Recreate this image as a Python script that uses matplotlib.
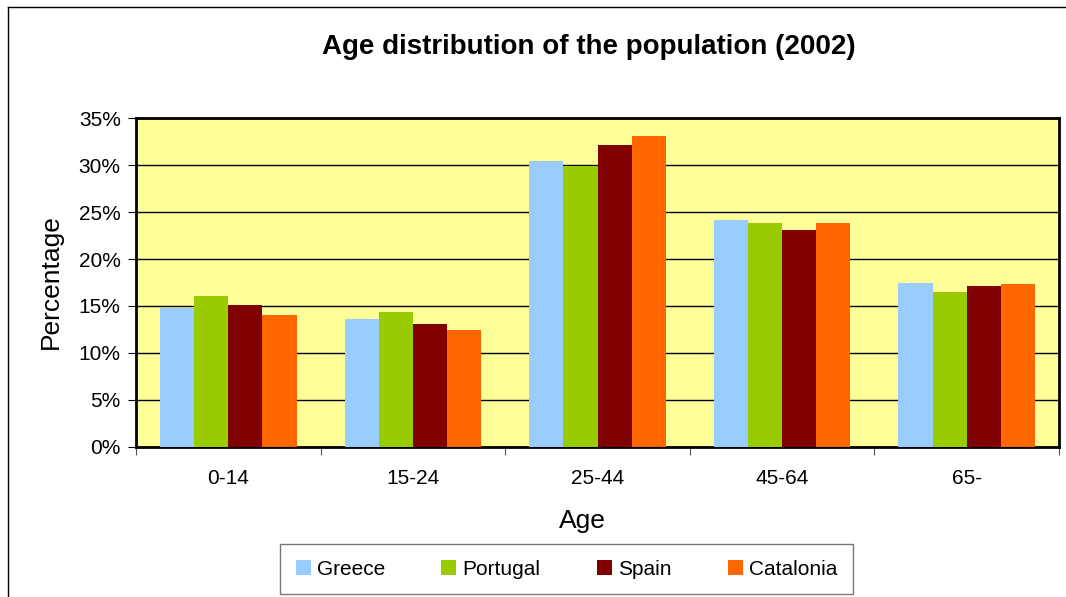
import matplotlib
matplotlib.use("Agg")
import matplotlib.pyplot as plt
import numpy as np
from matplotlib.lines import Line2D

plt.rcParams['font.family'] = ['Liberation Sans', 'DejaVu Sans']

ages = ["0-14", "15-24", "25-44", "45-64", "65-"]
greece = [14.8, 13.6, 30.45, 24.2, 17.45]
portugal = [16.1, 14.4, 29.9, 23.8, 16.45]
spain = [15.1, 13.1, 32.2, 23.1, 17.1]
catalonia = [14.05, 12.4, 33.1, 23.8, 17.3]

series = [("Greece", greece, "#99ccff"),
          ("Portugal", portugal, "#99cc00"),
          ("Spain", spain, "#800000"),
          ("Catalonia", catalonia, "#ff6600")]

fig = plt.figure(figsize=(10.66, 5.97), dpi=100)
ax = fig.add_axes([0.1276, 0.2518, 0.8659, 0.55])
ax.set_facecolor("#ffff99")

x = np.arange(len(ages))
w = 0.185
for i, (name, vals, col) in enumerate(series):
    ax.bar(x + (i - 1.5) * w, vals, w, color=col, label=name, zorder=3)

ax.set_xlim(-0.5, len(ages) - 0.5)
ax.set_ylim(0, 35)
ax.set_yticks(np.arange(0, 36, 5))
ax.set_yticklabels(["%d%%" % v for v in range(0, 36, 5)])
ax.yaxis.grid(True, color="black", linewidth=1.0, zorder=0)
ax.set_axisbelow(True)

# ticks at category boundaries, labels at centres
ax.set_xticks(np.arange(-0.5, len(ages), 1.0))
ax.set_xticklabels([])
ax.set_xticks(x, minor=True)
ax.set_xticklabels(ages, minor=True)
ax.tick_params(axis="x", which="minor", length=0, pad=16, labelsize=15)
ax.tick_params(axis="x", which="major", length=6, direction="out", color="#555555")
ax.tick_params(axis="y", length=6, direction="out", labelsize=15, pad=5)

for s in ax.spines.values():
    s.set_linewidth(2.0)
    s.set_color("black")

ax.set_xlabel("Age", fontsize=19)
ax.xaxis.set_label_coords(0.484, -0.19)
ax.set_ylabel("Percentage", fontsize=19)
ax.yaxis.set_label_coords(-0.079, 0.503)
fig.text(0.5525, 0.922, "Age distribution of the population (2002)",
         ha="center", va="center", fontsize=20, fontweight="bold")

leg = ax.legend(loc="center", bbox_to_anchor=(0.5315, 0.0465),
                bbox_transform=fig.transFigure, ncol=4, fontsize=15,
                frameon=True, fancybox=False, handlelength=0.72,
                handleheight=0.72, handletextpad=0.3, columnspacing=2.7,
                borderpad=0.75, borderaxespad=0)
leg.get_frame().set_edgecolor("#555555")
leg.get_frame().set_linewidth(1.0)

# outer chart border
fig.add_artist(Line2D([0.0075, 1.0], [0.988, 0.988], color="black", lw=1.0,
                      transform=fig.transFigure))
fig.add_artist(Line2D([0.0075, 0.0075], [0.0, 0.988], color="black", lw=1.0,
                      transform=fig.transFigure))

fig.savefig("out.png", dpi=100)
